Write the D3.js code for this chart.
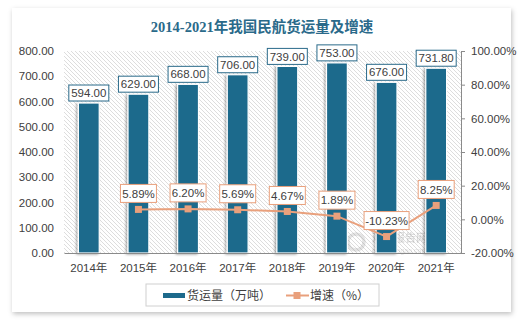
<!DOCTYPE html>
<html><head><meta charset="utf-8">
<script src="https://cdn.jsdelivr.net/npm/d3@7"></script>
<style>body{margin:0;background:#fff;}svg{display:block;}</style>
</head><body>
<script>
const categories = ["2014年","2015年","2016年","2017年","2018年","2019年","2020年","2021年"];
const cargo = [594.00, 629.00, 668.00, 706.00, 739.00, 753.00, 676.00, 731.80];
const growth = [null, 5.89, 6.20, 5.69, 4.67, 1.89, -10.23, 8.25];
const leftTicks = [0,100,200,300,400,500,600,700,800];
const rightTicks = [-20,0,20,40,60,80,100];
const title = "2014-2021年我国民航货运量及增速";
const legendLabels = ["货运量（万吨）","增速（%）"];

const W=532,H=323;
const barColor="#1d6a8c", lineColor="#e9a07c", textColor="#404040";
const svg=d3.select("body").append("svg").attr("width",W).attr("height",H);
const defs=svg.append("defs");
const sh=defs.append("filter").attr("id","cardsh").attr("x","-5%").attr("y","-5%").attr("width","110%").attr("height","112%");
sh.append("feDropShadow").attr("dx",1).attr("dy",2).attr("stdDeviation",2.5).attr("flood-color","#000").attr("flood-opacity",0.25);
const bsh=defs.append("filter").attr("id","barsh").attr("x","-30%").attr("y","-5%").attr("width","160%").attr("height","110%");
bsh.append("feDropShadow").attr("dx",-1.5).attr("dy",1).attr("stdDeviation",1.2).attr("flood-color","#000").attr("flood-opacity",0.35);
const pat=defs.append("pattern").attr("id","hatch").attr("patternUnits","userSpaceOnUse").attr("width",4).attr("height",4);
pat.append("rect").attr("width",4).attr("height",4).attr("fill","#fff");
pat.append("path").attr("d","M-1,-1 L5,5 M3,-1 L5,1 M-1,3 L1,5").attr("stroke","#d4d4d4").attr("stroke-width",0.8);

svg.append("rect").attr("x",12).attr("y",8).attr("width",499).attr("height",304).attr("fill","#fff").attr("filter","url(#cardsh)");

const x=d3.scaleBand().domain(categories).range([64,461]).paddingInner(0.58).paddingOuter(0.29);
const yL=d3.scaleLinear().domain([0,800]).range([253,51]);
const yR=d3.scaleLinear().domain([-20,100]).range([253,51]);

svg.append("rect").attr("x",64).attr("y",51).attr("width",397).attr("height",202).attr("fill","url(#hatch)");

svg.append("text").attr("x",262).attr("y",32).attr("text-anchor","middle")
 .attr("font-family","'Liberation Serif','Noto Sans CJK SC',serif").attr("font-weight","bold")
 .attr("font-size",14.5).attr("fill","#2a6a8a").text(title);

// left axis
const la=svg.append("g").attr("transform","translate(64,0)").call(d3.axisLeft(yL).tickValues(leftTicks).tickFormat(d3.format(".2f")).tickSize(0).tickPadding(10));
la.select(".domain").remove();
la.selectAll("text").attr("font-family","'Liberation Sans','Noto Sans CJK SC',sans-serif").attr("font-size",11.5).attr("fill",textColor);
// right axis
const ra=svg.append("g").attr("transform","translate(461,0)").call(d3.axisRight(yR).tickValues(rightTicks).tickFormat(d=>d.toFixed(2)+"%").tickSize(4).tickSizeOuter(0).tickPadding(6));
ra.select(".domain").attr("stroke","#8a8a8a");
ra.selectAll(".tick line").attr("stroke","#8a8a8a");
ra.selectAll("text").attr("font-family","'Liberation Sans','Noto Sans CJK SC',sans-serif").attr("font-size",11.5).attr("fill",textColor);

// watermark
const wm=svg.append("g").attr("opacity",0.2);
wm.append("circle").attr("cx",356).attr("cy",242).attr("r",8).attr("fill","none").attr("stroke","#777").attr("stroke-width",3.5);
wm.append("text").attr("x",372).attr("y",241.5).attr("font-family","'Noto Sans CJK SC',sans-serif").attr("font-weight","bold").attr("font-size",11).attr("fill","#666").text("观研报告网");
wm.append("text").attr("x",372).attr("y",252.5).attr("font-family","'Liberation Sans',sans-serif").attr("font-size",7).attr("fill","#666").text("chinabaogao.com");

// bars
svg.append("g").selectAll("rect").data(cargo).join("rect")
 .attr("x",(d,i)=>x(categories[i])).attr("width",x.bandwidth())
 .attr("y",d=>yL(d)).attr("height",d=>yL(0)-yL(d))
 .attr("fill",barColor).attr("stroke","#fff").attr("stroke-width",1.2).attr("filter","url(#barsh)");

// x axis
const xa=svg.append("g").attr("transform","translate(0,253)").call(d3.axisBottom(x).tickSize(0).tickPadding(11));
xa.select(".domain").attr("stroke","#8a8a8a");
xa.selectAll("text").attr("font-family","'Liberation Sans','Noto Sans CJK SC',sans-serif").attr("font-size",11.5).attr("fill",textColor);

// bar labels
const bl=svg.append("g").selectAll("g").data(cargo).join("g")
 .attr("transform",(d,i)=>`translate(${x(categories[i])+x.bandwidth()/2},${yL(d)-10})`);
bl.append("rect").attr("x",-20).attr("y",-8).attr("width",40).attr("height",16).attr("fill","#fff").attr("stroke","#2a6a8a").attr("stroke-width",1);
bl.append("text").attr("text-anchor","middle").attr("dy","0.36em").attr("font-family","'Liberation Sans',sans-serif").attr("font-size",11.5).attr("fill",textColor).text(d=>d.toFixed(2));

// line
const pts=growth.map((g,i)=>({g,c:categories[i]})).filter(p=>p.g!==null);
const lx=p=>x(p.c)+x.bandwidth()/2;
svg.append("path").datum(pts).attr("fill","none").attr("stroke",lineColor).attr("stroke-width",2)
 .attr("d",d3.line().x(lx).y(p=>yR(p.g)));
svg.append("g").selectAll("rect").data(pts).join("rect")
 .attr("x",p=>lx(p)-3.5).attr("y",p=>yR(p.g)-3.5).attr("width",7).attr("height",7).attr("fill",lineColor);
const gl=svg.append("g").selectAll("g").data(pts).join("g")
 .attr("transform",p=>`translate(${lx(p)},${yR(p.g)-16})`);
gl.append("rect").attr("x",p=>p.g<0?-22.5:-18).attr("y",-9).attr("width",p=>p.g<0?45:36).attr("height",18).attr("fill","#fff").attr("stroke",lineColor).attr("stroke-width",1);
gl.append("text").attr("text-anchor","middle").attr("dy","0.36em").attr("font-family","'Liberation Sans',sans-serif").attr("font-size",11.5).attr("fill",textColor).text(p=>p.g.toFixed(2)+"%");

// legend
const lg=svg.append("g");
lg.append("rect").attr("x",146).attr("y",284).attr("width",233).attr("height",22).attr("fill","#fff").attr("stroke","#d0d0d0");
lg.append("rect").attr("x",163).attr("y",293).attr("width",22).attr("height",5).attr("fill",barColor);
lg.append("text").attr("x",187).attr("y",295.5).attr("dy","0.36em").attr("font-family","'Noto Sans CJK SC',sans-serif").attr("font-size",12).attr("fill",textColor).text(legendLabels[0]);
lg.append("line").attr("x1",286).attr("x2",309).attr("y1",295.5).attr("y2",295.5).attr("stroke",lineColor).attr("stroke-width",2);
lg.append("rect").attr("x",293.5).attr("y",292).attr("width",7).attr("height",7).attr("fill",lineColor);
lg.append("text").attr("x",310).attr("y",295.5).attr("dy","0.36em").attr("font-family","'Noto Sans CJK SC',sans-serif").attr("font-size",12).attr("fill",textColor).text(legendLabels[1]);
</script>
</body></html>
